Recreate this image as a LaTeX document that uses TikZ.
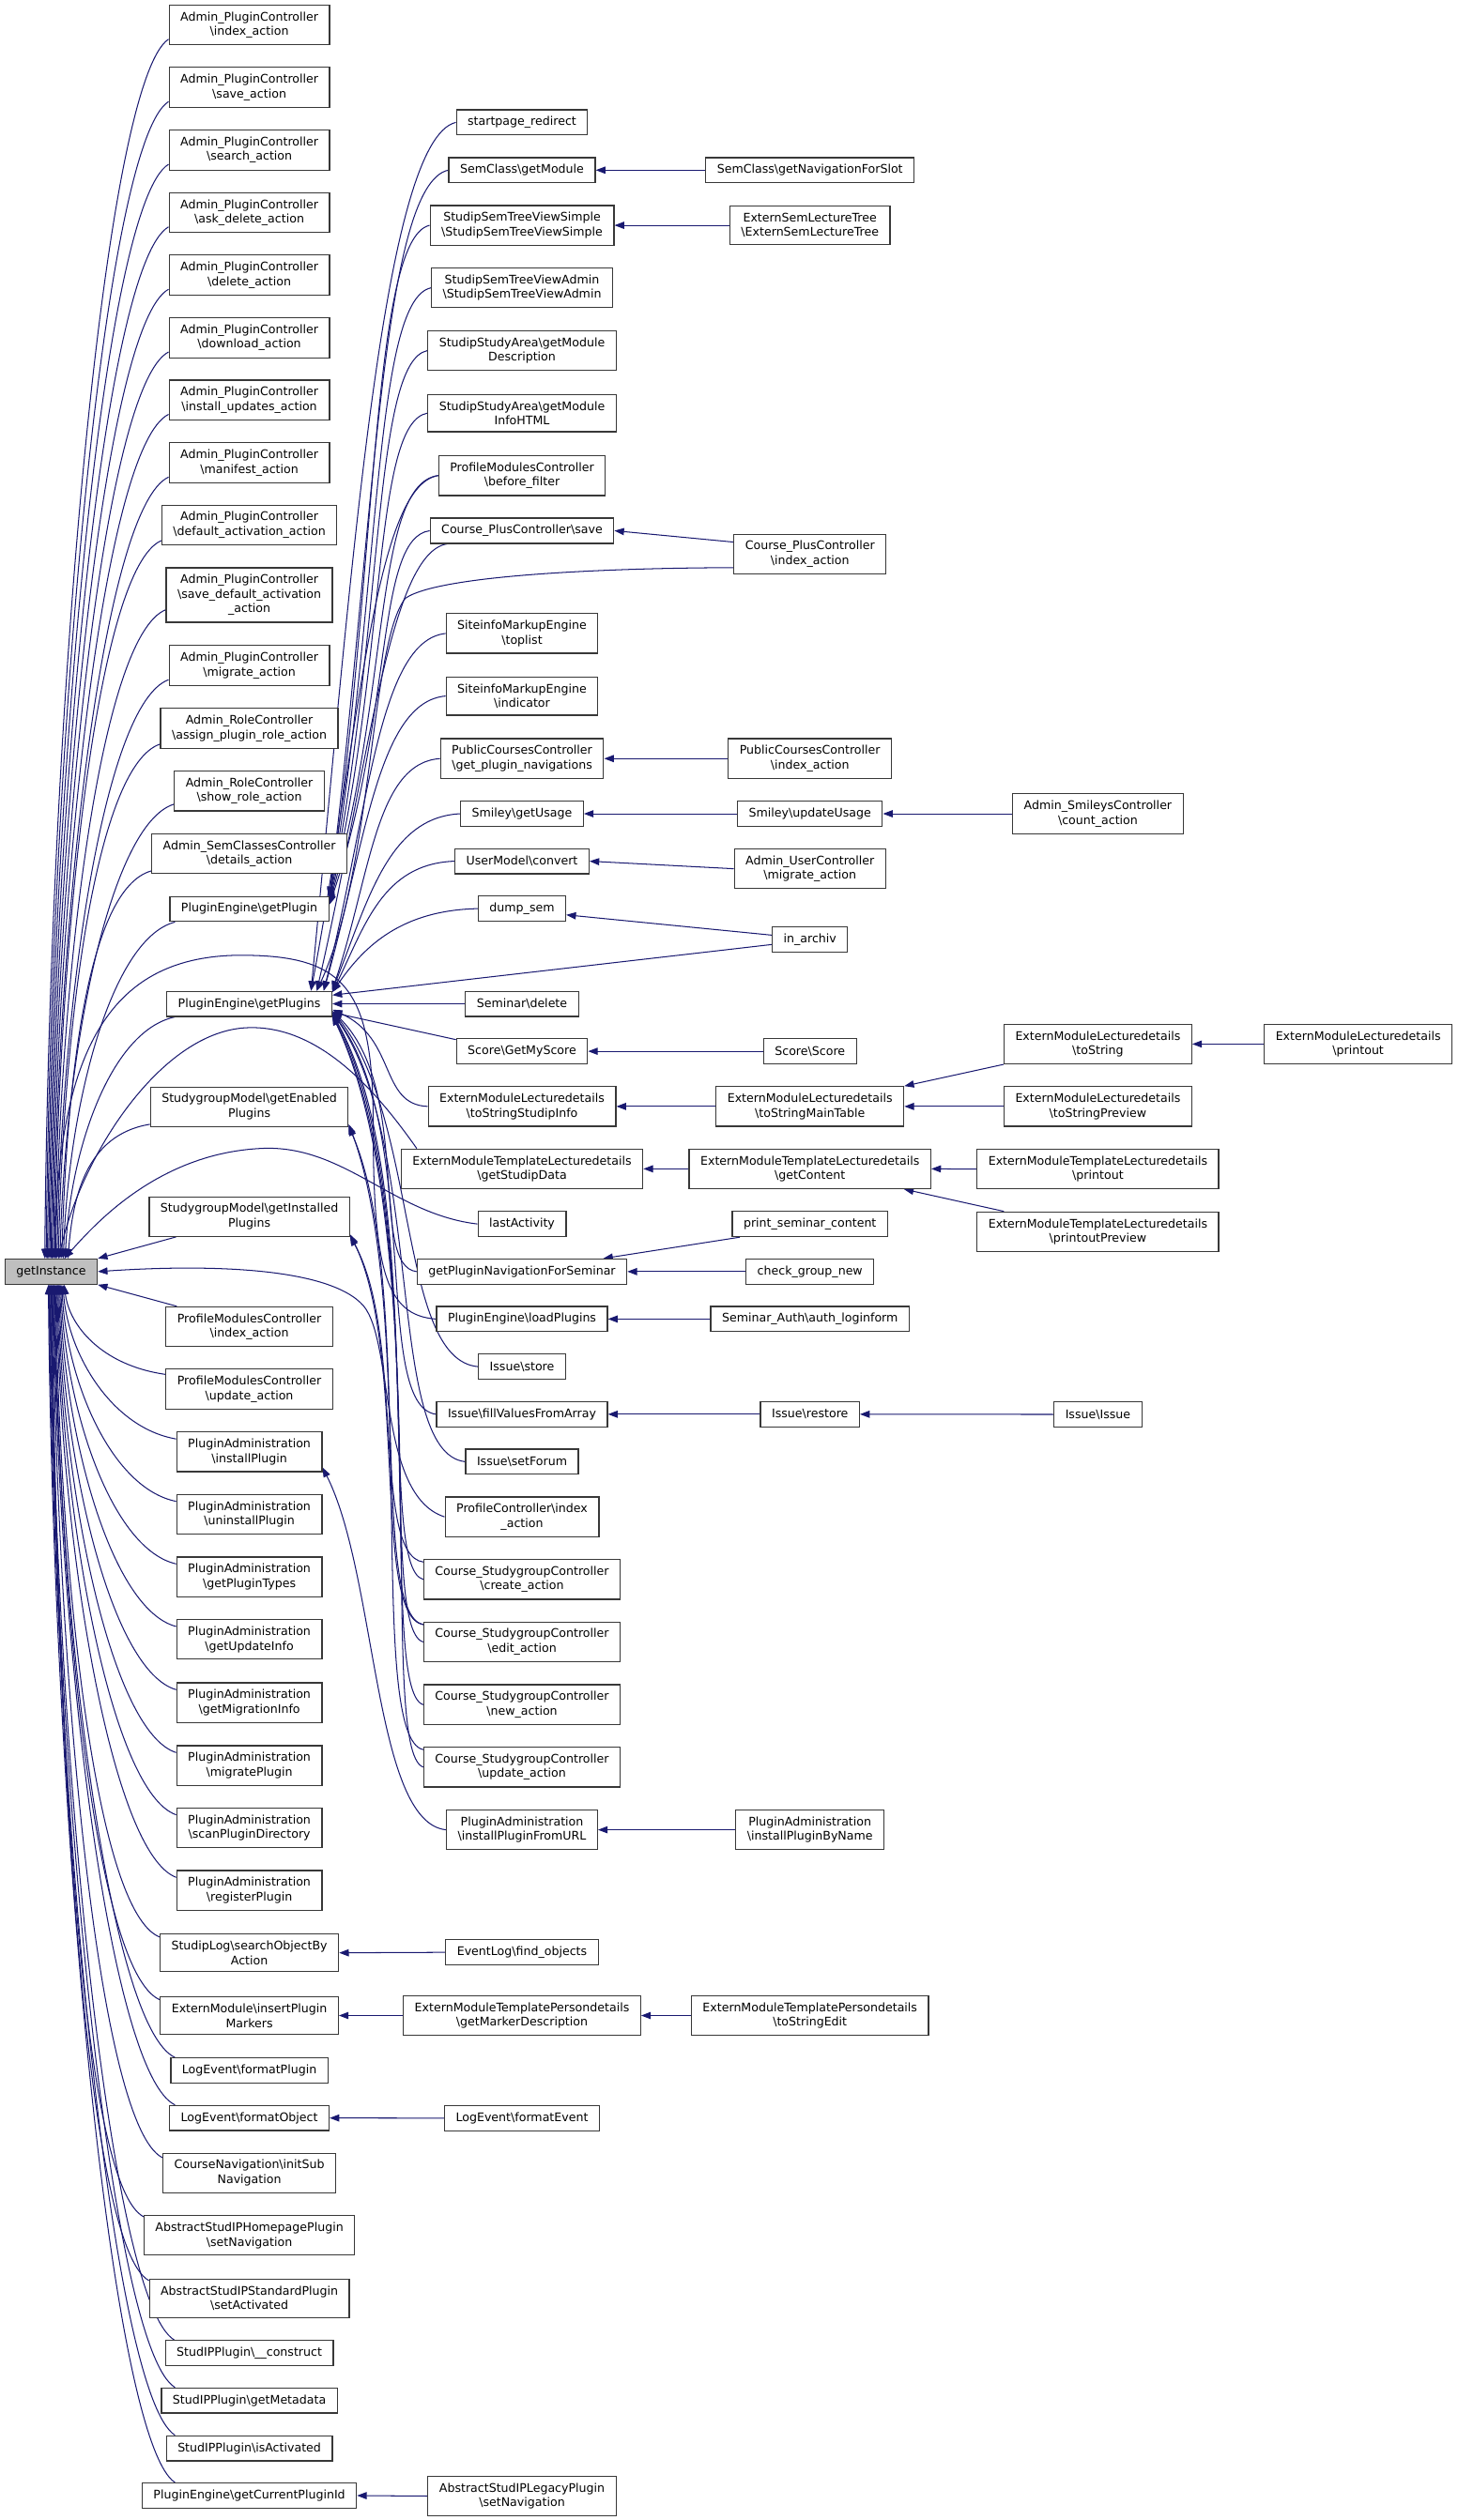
\documentclass[tikz,border=0pt]{standalone}
\usepackage{fontspec}
\setmainfont{DejaVu Sans}
\usetikzlibrary{
    arrows.meta,
    calc,
    backgrounds
}
\definecolor{callblue}{HTML}{191970}
\definecolor{boxline}{HTML}{383838}
\definecolor{rootgray}{HTML}{BFBFBF}
\newcommand{\bsl}{\textbackslash}
\tikzset{
    fn/.style={draw=boxline, line width=0.7pt, fill=white, align=center,
        inner xsep=7pt, inner ysep=4.2pt, minimum height=15.6pt,
        font=\fontsize{7.35}{9.1}\selectfont},
    root/.style={fn, fill=rootgray},
    calledge/.style={draw=callblue, line width=0.6pt, {Triangle[length=6pt,width=4.4pt]}-}
}

\begin{document}
\begin{tikzpicture}[x=1pt, y=1pt]
                \useasboundingbox (0,0) rectangle (906,-1567);
                % root
                \node[root] (gi) at (31.8,-790.7) {getInstance};
                % first column
                \node[fn] (apIndex) at (155,-15.5) {Admin\_PluginController\\\bsl index\_action};
                \node[fn] (apSave) at (155,-54.3) {Admin\_PluginController\\\bsl save\_action};
                \node[fn] (apSearch) at (155,-93.3) {Admin\_PluginController\\\bsl search\_action};
                \node[fn] (apAskDelete) at (155,-132.2) {Admin\_PluginController\\\bsl ask\_delete\_action};
                \node[fn] (apDelete) at (155,-171) {Admin\_PluginController\\\bsl delete\_action};
                \node[fn] (apDownload) at (155,-210) {Admin\_PluginController\\\bsl download\_action};
                \node[fn] (apInstUpd) at (155,-248.8) {Admin\_PluginController\\\bsl install\_updates\_action};
                \node[fn] (apManifest) at (155,-287.8) {Admin\_PluginController\\\bsl manifest\_action};
                \node[fn] (apDefAct) at (155,-326.5) {Admin\_PluginController\\\bsl default\_activation\_action};
                \node[fn] (apSaveDefAct) at (155,-370) {Admin\_PluginController\\\bsl save\_default\_activation\\\_action};
                \node[fn] (apMigrate) at (155,-413.8) {Admin\_PluginController\\\bsl migrate\_action};
                \node[fn] (arAssign) at (155,-452.9) {Admin\_RoleController\\\bsl assign\_plugin\_role\_action};
                \node[fn] (arShow) at (155,-491.8) {Admin\_RoleController\\\bsl show\_role\_action};
                \node[fn] (ascDetails) at (155,-530.8) {Admin\_SemClassesController\\\bsl details\_action};
                \node[fn] (peGetPlugin) at (155,-565.2) {PluginEngine\bsl getPlugin};
                \node[fn] (peGetPlugins) at (155,-624.2) {PluginEngine\bsl getPlugins};
                \node[fn] (sgmEnabled) at (155,-688.2) {StudygroupModel\bsl getEnabled\\Plugins};
                \node[fn] (sgmInstalled) at (155,-756.5) {StudygroupModel\bsl getInstalled\\Plugins};
                \node[fn] (pmcIndex) at (155,-825) {ProfileModulesController\\\bsl index\_action};
                \node[fn] (pmcUpdate) at (155,-863.8) {ProfileModulesController\\\bsl update\_action};
                \node[fn] (paInstall) at (155,-902.8) {PluginAdministration\\\bsl installPlugin};
                \node[fn] (paUninstall) at (155,-941.6) {PluginAdministration\\\bsl uninstallPlugin};
                \node[fn] (paTypes) at (155,-980.5) {PluginAdministration\\\bsl getPluginTypes};
                \node[fn] (paUpdInfo) at (155,-1019.4) {PluginAdministration\\\bsl getUpdateInfo};
                \node[fn] (paMigInfo) at (155,-1058.7) {PluginAdministration\\\bsl getMigrationInfo};
                \node[fn] (paMigrate) at (155,-1097.8) {PluginAdministration\\\bsl migratePlugin};
                \node[fn] (paScan) at (155,-1136.5) {PluginAdministration\\\bsl scanPluginDirectory};
                \node[fn] (paRegister) at (155,-1175.4) {PluginAdministration\\\bsl registerPlugin};
                \node[fn] (slSearch) at (155,-1214.3) {StudipLog\bsl searchObjectBy\\Action};
                \node[fn] (emInsert) at (155,-1253.3) {ExternModule\bsl insertPlugin\\Markers};
                \node[fn] (lePlugin) at (155,-1287.5) {LogEvent\bsl formatPlugin};
                \node[fn] (leObject) at (155,-1317) {LogEvent\bsl formatObject};
                \node[fn] (cnInit) at (155,-1351.2) {CourseNavigation\bsl initSub\\Navigation};
                \node[fn] (ahSetNav) at (155,-1390) {AbstractStudIPHomepagePlugin\\\bsl setNavigation};
                \node[fn] (asSetAct) at (155,-1429.1) {AbstractStudIPStandardPlugin\\\bsl setActivated};
                \node[fn] (spConstruct) at (155,-1463.3) {StudIPPlugin\bsl\_\_construct};
                \node[fn] (spMeta) at (155,-1492.7) {StudIPPlugin\bsl getMetadata};
                \node[fn] (spActive) at (155,-1522.4) {StudIPPlugin\bsl isActivated};
                \node[fn] (peCurrent) at (155,-1551.8) {PluginEngine\bsl getCurrentPluginId};
                % second column
                \node[fn] (startRedirect) at (324.5,-76.1) {startpage\_redirect};
                \node[fn] (scGetModule) at (324.5,-105.8) {SemClass\bsl getModule};
                \node[fn] (stvSimple) at (324.5,-140.1) {StudipSemTreeViewSimple\\\bsl StudipSemTreeViewSimple};
                \node[fn] (stvAdmin) at (324.5,-179) {StudipSemTreeViewAdmin\\\bsl StudipSemTreeViewAdmin};
                \node[fn] (ssaDesc) at (324.5,-218) {StudipStudyArea\bsl getModule\\Description};
                \node[fn] (ssaInfo) at (324.5,-256.9) {StudipStudyArea\bsl getModule\\InfoHTML};
                \node[fn] (pmcBefore) at (324.5,-295.7) {ProfileModulesController\\\bsl before\_filter};
                \node[fn] (cpSave) at (324.5,-330) {Course\_PlusController\bsl save};
                \node[fn] (simToplist) at (324.5,-393.9) {SiteinfoMarkupEngine\\\bsl toplist};
                \node[fn] (simIndicator) at (324.5,-432.8) {SiteinfoMarkupEngine\\\bsl indicator};
                \node[fn] (pccNav) at (324.5,-471.7) {PublicCoursesController\\\bsl get\_plugin\_navigations};
                \node[fn] (smGetUsage) at (324.5,-506) {Smiley\bsl getUsage};
                \node[fn] (umConvert) at (324.5,-535.5) {UserModel\bsl convert};
                \node[fn] (dumpSem) at (324.5,-565) {dump\_sem};
                \node[fn] (semDelete) at (324.5,-624.2) {Seminar\bsl delete};
                \node[fn] (scMyScore) at (324.5,-653.7) {Score\bsl GetMyScore};
                \node[fn] (emlStudip) at (324.5,-688) {ExternModuleLecturedetails\\\bsl toStringStudipInfo};
                \node[fn] (emtlStudip) at (324.5,-726.8) {ExternModuleTemplateLecturedetails\\\bsl getStudipData};
                \node[fn] (lastAct) at (324.5,-761.1) {lastActivity};
                \node[fn] (pluginNavSem) at (324.5,-790.7) {getPluginNavigationForSeminar};
                \node[fn] (peLoad) at (324.5,-820.2) {PluginEngine\bsl loadPlugins};
                \node[fn] (isStore) at (324.5,-849.8) {Issue\bsl store};
                \node[fn] (isFill) at (324.5,-879.4) {Issue\bsl fillValuesFromArray};
                \node[fn] (isForum) at (324.5,-908.9) {Issue\bsl setForum};
                \node[fn] (pcIndex) at (324.5,-943.2) {ProfileController\bsl index\\\_action};
                \node[fn] (cscCreate) at (324.5,-982.1) {Course\_StudygroupController\\\bsl create\_action};
                \node[fn] (cscEdit) at (324.5,-1021) {Course\_StudygroupController\\\bsl edit\_action};
                \node[fn] (cscNew) at (324.5,-1060) {Course\_StudygroupController\\\bsl new\_action};
                \node[fn] (cscUpdate) at (324.5,-1098.8) {Course\_StudygroupController\\\bsl update\_action};
                \node[fn] (paFromURL) at (324.5,-1137.8) {PluginAdministration\\\bsl installPluginFromURL};
                \node[fn] (elFind) at (324.5,-1214) {EventLog\bsl find\_objects};
                \node[fn] (emtpMarker) at (324.5,-1253.3) {ExternModuleTemplatePersondetails\\\bsl getMarkerDescription};
                \node[fn] (leEvent) at (324.5,-1317.1) {LogEvent\bsl formatEvent};
                \node[fn] (alSetNav) at (324.5,-1552.1) {AbstractStudIPLegacyPlugin\\\bsl setNavigation};
                % third column
                \node[fn] (scNavSlot) at (503.5,-105.8) {SemClass\bsl getNavigationForSlot};
                \node[fn] (eslTree) at (503.5,-140.1) {ExternSemLectureTree\\\bsl ExternSemLectureTree};
                \node[fn] (cpIndex) at (503.5,-344.6) {Course\_PlusController\\\bsl index\_action};
                \node[fn] (pccIndex) at (503.5,-471.7) {PublicCoursesController\\\bsl index\_action};
                \node[fn] (smUpdate) at (503.5,-506) {Smiley\bsl updateUsage};
                \node[fn] (aucMigrate) at (503.5,-540.2) {Admin\_UserController\\\bsl migrate\_action};
                \node[fn] (inArchiv) at (503.5,-584.4) {in\_archiv};
                \node[fn] (scScore) at (503.5,-653.7) {Score\bsl Score};
                \node[fn] (emlMain) at (503.5,-688) {ExternModuleLecturedetails\\\bsl toStringMainTable};
                \node[fn] (emtlContent) at (503.5,-726.8) {ExternModuleTemplateLecturedetails\\\bsl getContent};
                \node[fn] (printSem) at (503.5,-761.1) {print\_seminar\_content};
                \node[fn] (checkGroup) at (503.5,-790.7) {check\_group\_new};
                \node[fn] (saLogin) at (503.5,-820.2) {Seminar\_Auth\bsl auth\_loginform};
                \node[fn] (isRestore) at (503.5,-879.4) {Issue\bsl restore};
                \node[fn] (paByName) at (503.5,-1137.8) {PluginAdministration\\\bsl installPluginByName};
                \node[fn] (emtpEdit) at (503.5,-1253.3) {ExternModuleTemplatePersondetails\\\bsl toStringEdit};
                % fourth and fifth column
                \node[fn] (ascCount) at (682.5,-506) {Admin\_SmileysController\\\bsl count\_action};
                \node[fn] (emlToString) at (682.5,-649.2) {ExternModuleLecturedetails\\\bsl toString};
                \node[fn] (emlPreview) at (682.5,-688) {ExternModuleLecturedetails\\\bsl toStringPreview};
                \node[fn] (emtlPrintout) at (682.5,-727) {ExternModuleTemplateLecturedetails\\\bsl printout};
                \node[fn] (emtlPrevOut) at (682.5,-765.9) {ExternModuleTemplateLecturedetails\\\bsl printoutPreview};
                \node[fn] (isIssue) at (682.5,-879.5) {Issue\bsl Issue};
                \node[fn] (emlPrintout) at (844.3,-649.2) {ExternModuleLecturedetails\\\bsl printout};

                \begin{scope}[on background layer]
                % callers of getInstance, above it
                \foreach \src/\ang in {apIndex/116, apSave/111, apSearch/106, apAskDelete/101, apDelete/96,
                    apDownload/91, apInstUpd/86, apManifest/81, apDefAct/76, apSaveDefAct/71, apMigrate/66,
                    arAssign/61, arShow/56, ascDetails/51, peGetPlugin/47, peGetPlugins/43, sgmEnabled/38}{
                    \draw[calledge] let \p1=(gi.\ang), \p2=(\src.190) in
                        (\p1) .. controls ({\x1+3pt},{\y1+0.45*((\y2)-(\y1))})
                        and ({\x2-40pt},{\y2-0.03*((\y2)-(\y1))-4pt}) .. (\p2);
                }
                % callers of getInstance, below it
                \foreach \src/\ang in {pmcUpdate/-45, paInstall/-48, paUninstall/-51, paTypes/-54, paUpdInfo/-57,
                    paMigInfo/-60, paMigrate/-63, paScan/-66, paRegister/-69, slSearch/-72, emInsert/-75,
                    lePlugin/-78, leObject/-81, cnInit/-84, ahSetNav/-87, asSetAct/-90, spConstruct/-93,
                    spMeta/-96, spActive/-99, peCurrent/-102}{
                    \draw[calledge] let \p1=(gi.\ang), \p2=(\src.170) in
                        (\p1) .. controls ({\x1+3pt},{\y1+0.45*((\y2)-(\y1))})
                        and ({\x2-40pt},{\y2-0.03*((\y2)-(\y1))+4pt}) .. (\p2);
                }
                \draw[calledge] (gi.north east) -- ([xshift=17pt]sgmInstalled.south west);
                \draw[calledge] (gi.south east) -- ([xshift=7pt]pmcIndex.north west);
                % second column straight to getInstance
                \draw[calledge] (gi.75) .. controls (36,-650) and (70,-594) .. (150,-594)
                    .. controls (215,-594) and (232,-615) .. (232,-700)
                    .. controls (232,-790) and (240,-818) .. (peLoad.west);
                \draw[calledge] (gi.60) .. controls (50,-720) and (100,-640) .. (155,-639)
                    .. controls (200,-638) and (235,-680) .. ([xshift=10pt]emtlStudip.north west);
                \draw[calledge] (gi.45) .. controls (60,-760) and (100,-716) .. (165,-714)
                    .. controls (215,-713) and (245,-755) .. (lastAct.west);
                \draw[calledge] (gi.east) .. controls (130,-786) and (205,-788) .. (226,-812)
                    .. controls (245,-835) and (235,-930) .. (pcIndex.west);
                % the bundle between first and second column, from above
                \foreach \src/\dst/\ang/\sa/\dA/\dB in {
                    scGetModule/peGetPlugin/9/west/28/42, stvSimple/peGetPlugin/8/west/30/36,
                    stvAdmin/peGetPlugin/7/west/32/36, ssaDesc/peGetPlugin/6/west/34/34,
                    ssaInfo/peGetPlugin/5/west/36/34, pmcBefore/peGetPlugin/4/west/38/40,
                    cpSave/peGetPlugin/3/west/40/34,
                    startRedirect/peGetPlugins/12/west/26/45, pmcBefore/peGetPlugins/12/west/30/40,
                    cpSave/peGetPlugins/11/190/32/36,
                    simToplist/peGetPlugins/10/west/28/42, simIndicator/peGetPlugins/10/west/26/42,
                    pccNav/peGetPlugins/9/west/24/40, smGetUsage/peGetPlugins/9/west/22/45,
                    umConvert/peGetPlugins/8/west/20/45, dumpSem/peGetPlugins/8/west/18/50}{
                    \draw[calledge] let \p1=(\dst.\ang), \p2=(\src.\sa) in
                        (\p1) .. controls ({\x1+\dA*1pt},{\y1+0.5*((\y2)-(\y1))})
                        and ({\x2-\dB*1pt},{\y2-0.02*((\y2)-(\y1))}) .. (\p2);
                }
                \draw[calledge] (peGetPlugins.11) .. controls (232,-540) and (230,-400) .. (252,-372)
                    .. controls (275,-356) and (400,-353) .. (cpIndex.190);
                % the bundle, from below
                \foreach \src/\dst/\ang/\sa/\dA/\dB in {
                    emlStudip/peGetPlugins/-4/west/40/30, pluginNavSem/peGetPlugins/-5/west/50/30,
                    isStore/peGetPlugins/-5/west/54/50, isFill/peGetPlugins/-6/west/56/40,
                    isForum/peGetPlugins/-6/west/58/50, cscCreate/peGetPlugins/-7/west/60/30,
                    cscEdit/peGetPlugins/-7/west/62/30, cscNew/peGetPlugins/-8/west/64/30,
                    cscUpdate/peGetPlugins/-8/west/66/30,
                    cscEdit/sgmEnabled/-11/170/40/34, cscUpdate/sgmEnabled/-10/170/44/36,
                    cscCreate/sgmInstalled/-11/170/34/32, cscEdit/sgmInstalled/-10/170/36/32,
                    paFromURL/paInstall/-12/west/34/45}{
                    \draw[calledge] let \p1=(\dst.\ang), \p2=(\src.\sa) in
                        (\p1) .. controls ({\x1+\dA*1pt},{\y1+0.3*((\y2)-(\y1))})
                        and ({\x2-\dB*1pt},{\y2-0.02*((\y2)-(\y1))}) .. (\p2);
                }
                % straight calls further right
                \foreach \a/\b in {scGetModule.east/scNavSlot.west, stvSimple.east/eslTree.west,
                    cpSave.east/cpIndex.171, pccNav.east/pccIndex.west, smGetUsage.east/smUpdate.west,
                    smUpdate.east/ascCount.west, umConvert.east/aucMigrate.west, dumpSem.-8/inArchiv.173,
                    peGetPlugins.6/inArchiv.187, peGetPlugins.east/semDelete.west,
                    peGetPlugins.-6/scMyScore.170, scMyScore.east/scScore.west,
                    emlStudip.east/emlMain.west, emlMain.north east/emlToString.south west,
                    emlMain.east/emlPreview.west, emlToString.east/emlPrintout.west,
                    emtlStudip.east/emtlContent.west, emtlContent.east/emtlPrintout.west,
                    pluginNavSem.east/checkGroup.west, peLoad.east/saLogin.west,
                    isFill.east/isRestore.west, isRestore.east/isIssue.west,
                    paFromURL.east/paByName.west, slSearch.east/elFind.west,
                    emInsert.east/emtpMarker.west, emtpMarker.east/emtpEdit.west,
                    leObject.east/leEvent.west, peCurrent.east/alSetNav.west}{
                    \draw[calledge] (\a) -- (\b);
                }
                \draw[calledge] ([xshift=-17pt]emtlContent.south east) -- ([xshift=17pt]emtlPrevOut.north west);
                \draw[calledge] ([xshift=-15pt]pluginNavSem.north east) -- ([xshift=5pt]printSem.south west);
                \end{scope}
            \end{tikzpicture}
\end{document}
